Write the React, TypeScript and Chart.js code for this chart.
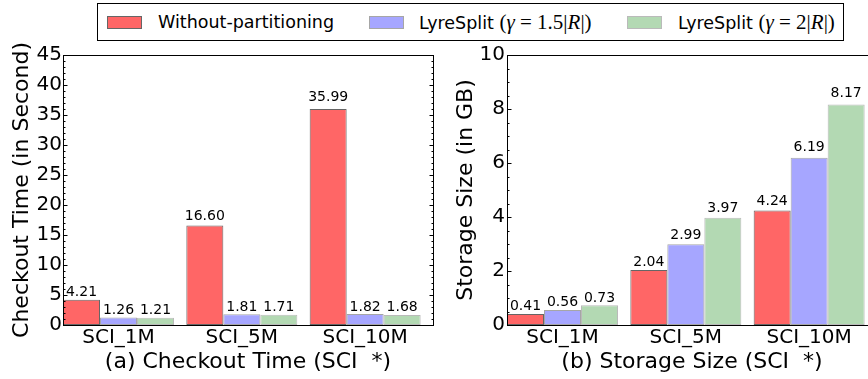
import { useEffect, useRef } from "react";
import { Chart, registerables } from "chart.js";

Chart.register(...registerables);

// Workload categories and series
const categories = ["SCI_1M", "SCI_5M", "SCI_10M"];
const seriesNames = ["Without-partitioning", "LyreSplit", "LyreSplit"];

// (a) checkout time in seconds
const checkoutWithout = [4.21, 16.6, 35.99];
const checkoutSplit15 = [1.26, 1.81, 1.82];
const checkoutSplit2 = [1.21, 1.71, 1.68];

// (b) storage size in GB
const storageWithout = [0.41, 2.04, 4.24];
const storageSplit15 = [0.56, 2.99, 6.19];
const storageSplit2 = [0.73, 3.97, 8.17];

// y tick labels
const checkoutTicks = [0, 5, 10, 15, 20, 25, 30, 35, 40, 45];
const storageTicks = [0, 2, 4, 6, 8, 10];

const FILLS = ["rgb(255,102,102)", "rgb(166,166,255)", "rgb(179,217,179)"];
const EDGES = ["rgb(102,102,102)", "rgb(166,166,166)", "rgb(186,186,186)"];
const FONT = '"DejaVu Sans", sans-serif';

// Box around the plot area plus inward major/minor ticks on both y sides
const framePlugin = {
  id: "frame",
  afterDraw(chart: any) {
    const { ctx, chartArea: a } = chart;
    const ys = chart.scales.y;
    const opts = chart.options.plugins.frame || {};
    const ticks: number[] = opts.ticks || [];
    const minorDiv: number = opts.minorDiv || 1;
    const L = Math.round(a.left) + 0.5;
    const R = Math.round(a.right) + 0.5;
    const T = Math.round(a.top) + 0.5;
    const B = Math.round(a.bottom) + 0.5;
    ctx.save();
    ctx.strokeStyle = "#000";
    ctx.lineWidth = 1;
    ctx.beginPath();
    for (let i = 0; i < ticks.length; i++) {
      const yv = Math.round(ys.getPixelForValue(ticks[i])) + 0.5;
      ctx.moveTo(L, yv);
      ctx.lineTo(L + 4, yv);
      ctx.moveTo(R, yv);
      ctx.lineTo(R - 4, yv);
      if (i < ticks.length - 1) {
        const step = (ticks[i + 1] - ticks[i]) / minorDiv;
        for (let k = 1; k < minorDiv; k++) {
          const ym = Math.round(ys.getPixelForValue(ticks[i] + k * step)) + 0.5;
          ctx.moveTo(L, ym);
          ctx.lineTo(L + 2, ym);
          ctx.moveTo(R, ym);
          ctx.lineTo(R - 2, ym);
        }
      }
    }
    ctx.stroke();
    ctx.strokeRect(L, T, R - L, B - T);
    ctx.restore();
  },
};

// Value printed just above each bar
const valueLabelPlugin = {
  id: "valueLabels",
  afterDatasetsDraw(chart: any) {
    const { ctx } = chart;
    const ys = chart.scales.y;
    ctx.save();
    ctx.font = `14px ${FONT}`;
    ctx.fillStyle = "#000";
    ctx.textAlign = "center";
    ctx.textBaseline = "alphabetic";
    chart.data.datasets.forEach((ds: any, di: number) => {
      const meta = chart.getDatasetMeta(di);
      meta.data.forEach((bar: any, i: number) => {
        const v = ds.data[i].y as number;
        const y = ys.getPixelForValue(v * 1.02) - 3.3;
        ctx.fillText(v.toFixed(2), bar.x, y);
      });
    });
    ctx.restore();
  },
};

function makeConfig(
  series: number[][],
  yTicks: number[],
  minorDiv: number,
  yTitle: string,
  xTitle: string,
  yWidth: number,
  yTitlePad: number,
  padRight: number,
  tickPad: number
): any {
  return {
    type: "bar",
    data: {
      datasets: series.map((vals, si) => ({
        label: seriesNames[si],
        data: vals.map((v, i) => ({ x: i, y: v })),
        backgroundColor: FILLS[si],
        borderColor: EDGES[si],
        borderWidth: 1,
        borderSkipped: false,
        categoryPercentage: 0.9,
        barPercentage: 1.0,
      })),
    },
    options: {
      responsive: false,
      animation: false,
      devicePixelRatio: 1,
      layout: { padding: { top: 55, right: padRight, bottom: 0, left: 0 } },
      plugins: {
        legend: { display: false },
        tooltip: { enabled: false },
        frame: { ticks: yTicks, minorDiv },
      },
      scales: {
        x: {
          type: "linear",
          min: -0.45,
          max: 2.55,
          offset: false,
          grid: { display: false, drawTicks: false },
          border: { display: false },
          afterBuildTicks: (s: any) => {
            s.ticks = categories.map((_, i) => ({ value: i }));
          },
          ticks: {
            autoSkip: false,
            maxRotation: 0,
            padding: 1,
            color: "#000",
            font: { family: FONT, size: 20 },
            callback: (v: any) => categories[Math.round(Number(v))] ?? "",
          },
          title: {
            display: true,
            text: xTitle,
            color: "#000",
            font: { family: FONT, size: 22 },
            padding: { top: 0, bottom: 4 },
          },
          afterFit: (s: any) => {
            s.height = 54;
          },
        },
        y: {
          min: yTicks[0],
          max: yTicks[yTicks.length - 1],
          grid: { display: false, drawTicks: false },
          border: { display: false },
          afterBuildTicks: (s: any) => {
            s.ticks = yTicks.map((v) => ({ value: v }));
          },
          ticks: {
            padding: tickPad,
            color: "#000",
            font: { family: FONT, size: 20 },
          },
          title: {
            display: true,
            text: yTitle,
            color: "#000",
            font: { family: FONT, size: 22 },
            padding: { top: yTitlePad, bottom: 0 },
          },
          afterFit: (s: any) => {
            s.width = yWidth;
          },
        },
      },
    },
    plugins: [valueLabelPlugin, framePlugin],
  };
}

function BarPanel(props: { config: any; left: number; width: number }) {
  const ref = useRef<HTMLCanvasElement | null>(null);
  useEffect(() => {
    if (!ref.current) return;
    const chart = new Chart(ref.current, props.config);
    return () => chart.destroy();
  }, []);
  return (
    <canvas
      ref={ref}
      width={props.width}
      height={379}
      style={{
        position: "absolute",
        left: props.left,
        top: 0,
        width: props.width,
        height: 379,
        display: "block",
      }}
    />
  );
}

const swatch = (i: number): any => ({
  position: "absolute",
  top: 12,
  width: 35,
  height: 13,
  boxSizing: "border-box",
  background: FILLS[i],
  border: `1px solid ${EDGES[i]}`,
});

const labelStyle: any = {
  position: "absolute",
  top: 7,
  whiteSpace: "nowrap",
  fontFamily: FONT,
  fontSize: 17.5,
  lineHeight: "22px",
  color: "#000",
};

const mathStyle: any = {
  fontFamily: '"Liberation Serif", "DejaVu Serif", serif',
  fontSize: 21,
};

function Legend() {
  return (
    <div
      style={{
        position: "absolute",
        left: 97,
        top: 3,
        width: 747,
        height: 38,
        boxSizing: "border-box",
        border: "1px solid #000",
        background: "#fff",
        zIndex: 2,
      }}
    >
      <div style={{ ...swatch(0), left: 9 }} />
      <div style={{ ...labelStyle, left: 60 }}>{seriesNames[0]}</div>
      <div style={{ ...swatch(1), left: 271 }} />
      <div style={{ ...labelStyle, left: 321 }}>
        {seriesNames[1]}{" "}
        <span style={mathStyle}>
          (<i>γ</i>{"\u2005"}={"\u2005"}1.5|<i>R</i>|)
        </span>
      </div>
      <div style={{ ...swatch(2), left: 529 }} />
      <div style={{ ...labelStyle, left: 580 }}>
        {seriesNames[2]}{" "}
        <span style={mathStyle}>
          (<i>γ</i>{"\u2005"}={"\u2005"}2|<i>R</i>|)
        </span>
      </div>
    </div>
  );
}

export default function App() {
  const checkoutConfig = makeConfig(
    [checkoutWithout, checkoutSplit15, checkoutSplit2],
    checkoutTicks,
    5,
    "Checkout Time (in Second)",
    "(a) Checkout Time (SCI  *)",
    63,
    9,
    7,
    1
  );
  const storageConfig = makeConfig(
    [storageWithout, storageSplit15, storageSplit2],
    storageTicks,
    4,
    "Storage Size (in GB)",
    "(b) Storage Size (SCI  *)",
    71,
    17,
    4,
    2
  );
  return (
    <div
      style={{
        position: "fixed",
        left: 0,
        top: 0,
        width: 868,
        height: 379,
        overflow: "hidden",
        background: "#fff",
      }}
    >
      <BarPanel config={checkoutConfig} left={0} width={440} />
      <BarPanel config={storageConfig} left={436} width={445} />
      <Legend />
    </div>
  );
}
